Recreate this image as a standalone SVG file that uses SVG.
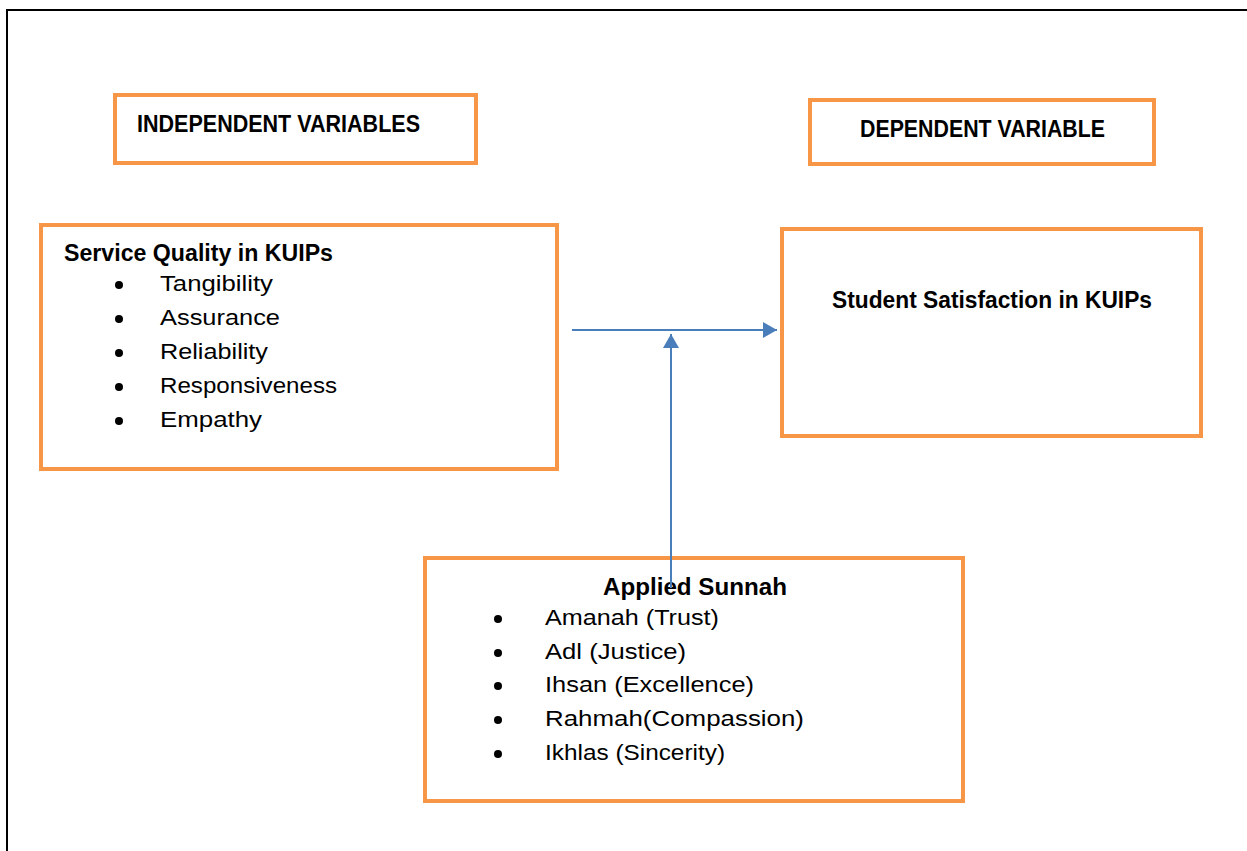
<svg xmlns="http://www.w3.org/2000/svg" width="1247" height="851" viewBox="0 0 1247 851">
<style>
.box{fill:#fff;stroke:#F79646;stroke-width:4}
.h{font-family:"Liberation Sans",Arial,sans-serif;font-weight:bold;font-size:23px;fill:#000}
.t{font-family:"Liberation Sans",Arial,sans-serif;font-size:22.5px;fill:#000}
.conn{stroke:#4A7EBB;stroke-width:2;fill:none}
</style>
<defs>
<marker id="arrB" viewBox="0 0 14 16" markerWidth="14" markerHeight="16" refX="14" refY="8" orient="auto" markerUnits="userSpaceOnUse">
<path d="M0,0 L14,8 L0,16 Z" fill="#4A7EBB"/>
</marker>
</defs>
<rect width="1247" height="851" fill="#fff"/>
<path d="M7,851 L7,10 L1247,10" fill="none" stroke="#000" stroke-width="2"/>

<g id="independent-label">
<rect class="box" x="115" y="95" width="361" height="68"/>
<text class="h" x="137" y="132" textLength="283" lengthAdjust="spacingAndGlyphs">INDEPENDENT VARIABLES</text>
</g>
<g id="dependent-label">
<rect class="box" x="810" y="100" width="344" height="64"/>
<text class="h" x="860" y="137" textLength="245" lengthAdjust="spacingAndGlyphs">DEPENDENT VARIABLE</text>
</g>
<g id="service-quality">
<rect class="box" x="41" y="225" width="516" height="244"/>
<text class="h" x="64" y="261" textLength="269" lengthAdjust="spacingAndGlyphs">Service Quality in KUIPs</text>
<circle cx="119" cy="285" r="4"/>
<text class="t" x="160" y="291" textLength="113" lengthAdjust="spacingAndGlyphs">Tangibility</text>
<circle cx="119" cy="319" r="4"/>
<text class="t" x="160" y="325" textLength="120" lengthAdjust="spacingAndGlyphs">Assurance</text>
<circle cx="119" cy="353" r="4"/>
<text class="t" x="160" y="359" textLength="108" lengthAdjust="spacingAndGlyphs">Reliability</text>
<circle cx="119" cy="387" r="4"/>
<text class="t" x="160" y="393" textLength="177" lengthAdjust="spacingAndGlyphs">Responsiveness</text>
<circle cx="119" cy="421" r="4"/>
<text class="t" x="160" y="427" textLength="102" lengthAdjust="spacingAndGlyphs">Empathy</text>
</g>
<g id="student-satisfaction">
<rect class="box" x="782" y="229" width="419" height="207"/>
<text class="h" x="832" y="308" textLength="320" lengthAdjust="spacingAndGlyphs">Student Satisfaction in KUIPs</text>
</g>
<g id="applied-sunnah">
<rect class="box" x="425" y="558" width="538" height="243"/>
<text class="h" x="603" y="595" textLength="184" lengthAdjust="spacingAndGlyphs">Applied Sunnah</text>
<circle cx="498" cy="619" r="4"/>
<text class="t" x="545" y="625" textLength="174" lengthAdjust="spacingAndGlyphs">Amanah (Trust)</text>
<circle cx="498" cy="653" r="4"/>
<text class="t" x="545" y="659" textLength="141" lengthAdjust="spacingAndGlyphs">Adl (Justice)</text>
<circle cx="498" cy="686" r="4"/>
<text class="t" x="545" y="692" textLength="209" lengthAdjust="spacingAndGlyphs">Ihsan (Excellence)</text>
<circle cx="498" cy="720" r="4"/>
<text class="t" x="545" y="726" textLength="259" lengthAdjust="spacingAndGlyphs">Rahmah(Compassion)</text>
<circle cx="498" cy="754" r="4"/>
<text class="t" x="545" y="760" textLength="180" lengthAdjust="spacingAndGlyphs">Ikhlas (Sincerity)</text>
</g>
<g id="connectors">
<line class="conn" x1="572" y1="330" x2="777" y2="330" marker-end="url(#arrB)"/>
<line class="conn" x1="671" y1="588" x2="671" y2="334" marker-end="url(#arrB)"/>
</g>
</svg>
